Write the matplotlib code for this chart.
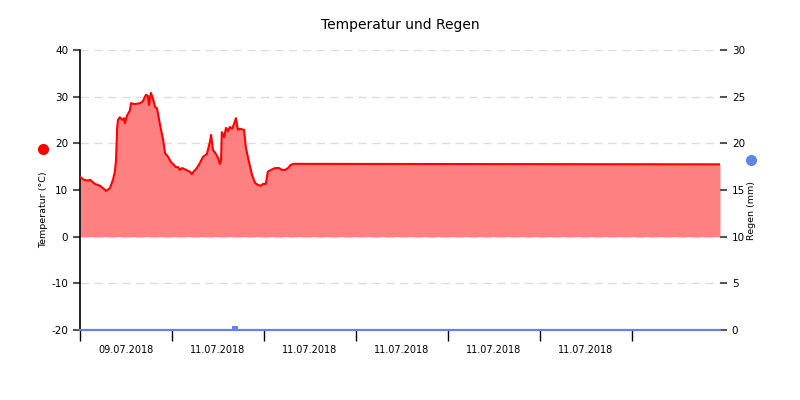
import matplotlib
matplotlib.use('Agg')
import matplotlib.pyplot as plt
import numpy as np

plt.rcParams['axes.unicode_minus'] = False

# hours since start of the record
hours = [0, 1.0, 2.1, 2.6, 3.9, 5.2, 6.3, 6.8, 7.8, 8.6, 9.1, 9.4, 9.7, 9.9,
         10.4, 11.0, 11.5, 11.7, 12.3, 13.0, 13.3, 14.3, 15.7, 16.4, 17.2,
         17.7, 18.0, 18.5, 19.0, 19.6, 20.1, 20.9, 21.7, 22.2, 23.0, 23.7,
         24.5, 25.0, 25.6, 26.1, 26.6, 27.7, 28.7, 29.2, 29.7, 30.5, 31.3,
         32.1, 33.1, 33.9, 34.2, 34.7, 35.5, 36.0, 36.5, 36.8, 37.0, 37.6,
         38.1, 38.6, 39.1, 39.7, 40.2, 40.7, 41.2, 41.7, 42.8, 43.3, 44.1,
         44.9, 45.7, 46.4, 47.2, 47.7, 48.5, 49.0, 49.8, 50.9, 51.9, 52.7,
         53.5, 54.3, 55.0, 55.8, 167]
temp = [12.8, 12.2, 12.0, 12.2, 11.3, 10.9, 10.2, 9.8, 10.4, 12.2, 13.9,
        16.4, 23.3, 25.0, 25.6, 25.0, 25.4, 24.3, 26.0, 27.0, 28.6, 28.4,
        28.6, 29.0, 30.4, 30.2, 28.2, 30.8, 29.7, 27.8, 27.5, 23.9, 20.7,
        17.9, 17.1, 16.0, 15.4, 14.9, 14.9, 14.3, 14.7, 14.3, 13.9, 13.4,
        14.0, 14.7, 15.8, 17.1, 17.7, 20.3, 21.8, 18.6, 17.7, 16.9, 15.6,
        16.4, 22.4, 21.3, 23.3, 22.6, 23.5, 23.1, 24.2, 25.4, 22.9, 23.1,
        22.9, 19.0, 16.0, 13.2, 11.5, 11.1, 10.9, 11.3, 11.3, 13.9, 14.3,
        14.7, 14.7, 14.3, 14.3, 14.7, 15.4, 15.6, 15.5]

rain_hours = [0, 40.4, 167]
rain = [0, 0.4, 0]

tick_hours = [0, 24, 48, 72, 96, 120, 144]
label_hours = [12, 36, 60, 84, 108, 132]
labels = ['09.07.2018', '11.07.2018', '11.07.2018', '11.07.2018',
          '11.07.2018', '11.07.2018']

fig = plt.figure(figsize=(8, 4), dpi=100)
ax = fig.add_axes([0.1, 0.175, 0.8, 0.7])
ax2 = ax.twinx()

ax.fill_between(hours, temp, 0, color='#ff8080', lw=0, zorder=2)
ax.plot(hours, temp, color='red', lw=1.5, zorder=3)
ax.set_xlim(0, 167)
ax.set_ylim(-20, 40)
ax.set_yticks(np.arange(-20, 41, 10))
ax.yaxis.grid(True, color='#dddddd', ls=(0, (6, 4)), lw=1)
ax.set_axisbelow(True)

ax2.set_ylim(0, 30)
ax2.set_yticks(np.arange(0, 31, 5))
ax2.bar([rain_hours[1]], [rain[1]], width=1.6, color='#6283e8', zorder=3)
ax2.plot([0, 167], [0, 0], color='#6283e8', lw=1.6, zorder=2, clip_on=False)

ax.set_xticks(tick_hours)
ax.set_xticklabels([])
ax.set_xticks(label_hours, minor=True)
ax.set_xticklabels(labels, minor=True, fontsize=7)
ax.tick_params(axis='x', which='major', length=8, width=1, color='black')
ax.tick_params(axis='x', which='minor', length=0, pad=11)
ax.tick_params(axis='y', length=5, width=1.5, color='#555555', labelsize=7.5)
ax2.tick_params(axis='y', length=5, width=1.5, color='#555555', labelsize=7.5)

for a in (ax, ax2):
    a.spines['top'].set_visible(False)
    a.spines['right'].set_visible(False)
ax2.spines['left'].set_visible(False)
ax2.spines['bottom'].set_visible(False)
ax.spines['left'].set_linewidth(1.2)
ax.spines['bottom'].set_linewidth(1.2)

fig.text(0.055, 0.475, 'Temperatur (°C)', rotation=90, fontsize=6.8,
         ha='center', va='center')
fig.text(0.94, 0.475, 'Regen (mm)', rotation=90, fontsize=6.8,
         ha='center', va='center')
fig.lines.append(plt.Line2D([0.054], [0.627], marker='o', ms=7,
                            color='red', transform=fig.transFigure))
fig.lines.append(plt.Line2D([0.939], [0.6], marker='o', ms=7,
                            color='#6283e8', transform=fig.transFigure))

fig.suptitle('Temperatur und Regen', y=0.955, fontsize=10)

fig.savefig('out.png', dpi=100)
